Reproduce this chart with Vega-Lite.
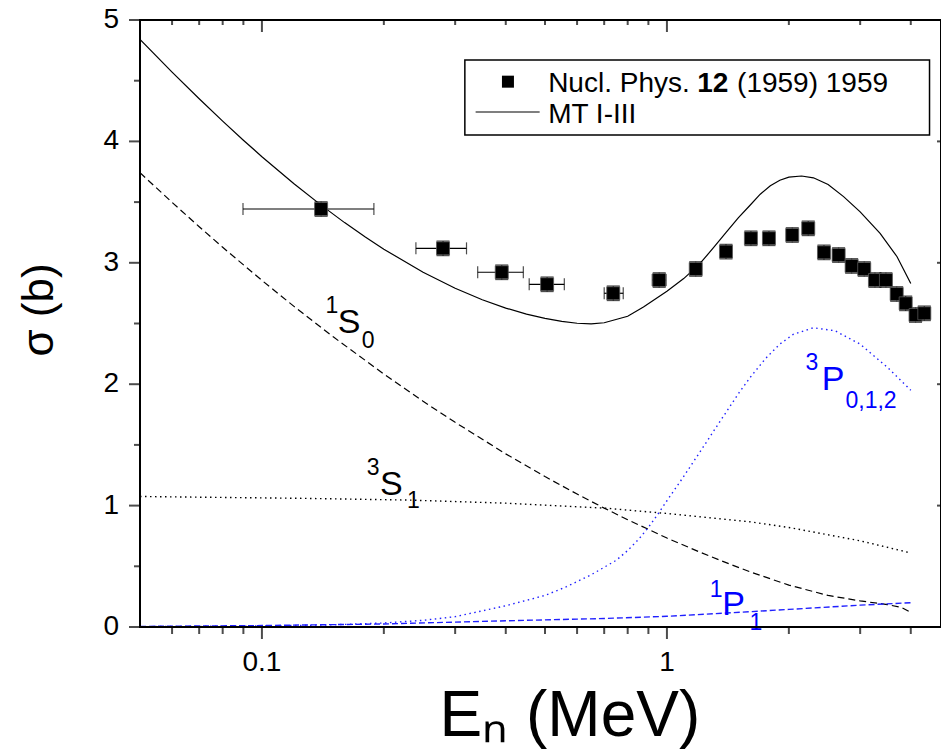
{
  "$schema": "https://vega.github.io/schema/vega-lite/v6.json",
  "width": 801,
  "height": 607,
  "autosize": {"type": "none"},
  "padding": {"left": 140, "top": 20, "right": 0, "bottom": 128},
  "background": "white",
  "config": {"view": {"stroke": "black", "strokeWidth": 2}, "font": "Liberation Sans"},
  "datasets": {
    "curves": [
      {"comp": "total", "E": 0.05, "sigma": 4.84}, {"comp": "total", "E": 0.06, "sigma": 4.57}, {"comp": "total", "E": 0.07, "sigma": 4.351},
      {"comp": "total", "E": 0.08, "sigma": 4.167}, {"comp": "total", "E": 0.09, "sigma": 4.01}, {"comp": "total", "E": 0.1, "sigma": 3.874},
      {"comp": "total", "E": 0.12, "sigma": 3.651}, {"comp": "total", "E": 0.14, "sigma": 3.475}, {"comp": "total", "E": 0.16, "sigma": 3.331},
      {"comp": "total", "E": 0.18, "sigma": 3.212}, {"comp": "total", "E": 0.2, "sigma": 3.112}, {"comp": "total", "E": 0.25, "sigma": 2.922},
      {"comp": "total", "E": 0.3, "sigma": 2.79}, {"comp": "total", "E": 0.35, "sigma": 2.696}, {"comp": "total", "E": 0.4, "sigma": 2.627},
      {"comp": "total", "E": 0.45, "sigma": 2.577}, {"comp": "total", "E": 0.5, "sigma": 2.542}, {"comp": "total", "E": 0.55, "sigma": 2.517},
      {"comp": "total", "E": 0.6, "sigma": 2.502}, {"comp": "total", "E": 0.65, "sigma": 2.497}, {"comp": "total", "E": 0.7, "sigma": 2.506},
      {"comp": "total", "E": 0.8, "sigma": 2.56}, {"comp": "total", "E": 0.875, "sigma": 2.635}, {"comp": "total", "E": 1.0, "sigma": 2.765},
      {"comp": "total", "E": 1.1, "sigma": 2.87}, {"comp": "total", "E": 1.2, "sigma": 2.985}, {"comp": "total", "E": 1.3, "sigma": 3.12},
      {"comp": "total", "E": 1.4, "sigma": 3.25}, {"comp": "total", "E": 1.5, "sigma": 3.37}, {"comp": "total", "E": 1.6, "sigma": 3.47},
      {"comp": "total", "E": 1.7, "sigma": 3.565}, {"comp": "total", "E": 1.8, "sigma": 3.635}, {"comp": "total", "E": 1.9, "sigma": 3.68},
      {"comp": "total", "E": 2.0, "sigma": 3.705}, {"comp": "total", "E": 2.15, "sigma": 3.715}, {"comp": "total", "E": 2.3, "sigma": 3.7},
      {"comp": "total", "E": 2.5, "sigma": 3.645}, {"comp": "total", "E": 2.73, "sigma": 3.545}, {"comp": "total", "E": 3.0, "sigma": 3.42},
      {"comp": "total", "E": 3.36, "sigma": 3.243}, {"comp": "total", "E": 3.7, "sigma": 3.05}, {"comp": "total", "E": 4.0, "sigma": 2.83},
      {"comp": "1S0", "E": 0.05, "sigma": 3.742}, {"comp": "1S0", "E": 0.06, "sigma": 3.498}, {"comp": "1S0", "E": 0.07, "sigma": 3.297},
      {"comp": "1S0", "E": 0.08, "sigma": 3.128}, {"comp": "1S0", "E": 0.1, "sigma": 2.855}, {"comp": "1S0", "E": 0.12, "sigma": 2.641},
      {"comp": "1S0", "E": 0.15, "sigma": 2.39}, {"comp": "1S0", "E": 0.2, "sigma": 2.084}, {"comp": "1S0", "E": 0.25, "sigma": 1.859},
      {"comp": "1S0", "E": 0.3, "sigma": 1.686}, {"comp": "1S0", "E": 0.4, "sigma": 1.426}, {"comp": "1S0", "E": 0.5, "sigma": 1.239},
      {"comp": "1S0", "E": 0.6, "sigma": 1.095}, {"comp": "1S0", "E": 0.7, "sigma": 0.979}, {"comp": "1S0", "E": 0.8, "sigma": 0.884},
      {"comp": "1S0", "E": 1.0, "sigma": 0.733}, {"comp": "1S0", "E": 1.2, "sigma": 0.62}, {"comp": "1S0", "E": 1.4, "sigma": 0.53},
      {"comp": "1S0", "E": 1.6, "sigma": 0.456}, {"comp": "1S0", "E": 2.0, "sigma": 0.345}, {"comp": "1S0", "E": 2.5, "sigma": 0.26},
      {"comp": "1S0", "E": 3.0, "sigma": 0.215}, {"comp": "1S0", "E": 3.5, "sigma": 0.185}, {"comp": "1S0", "E": 3.8, "sigma": 0.16},
      {"comp": "1S0", "E": 4.0, "sigma": 0.12},
      {"comp": "3S1", "E": 0.05, "sigma": 1.075}, {"comp": "3S1", "E": 0.124, "sigma": 1.06}, {"comp": "3S1", "E": 0.228, "sigma": 1.046},
      {"comp": "3S1", "E": 0.4, "sigma": 1.02}, {"comp": "3S1", "E": 0.71, "sigma": 0.978}, {"comp": "3S1", "E": 1.0, "sigma": 0.935},
      {"comp": "3S1", "E": 1.6, "sigma": 0.867}, {"comp": "3S1", "E": 2.0, "sigma": 0.82}, {"comp": "3S1", "E": 3.0, "sigma": 0.71},
      {"comp": "3S1", "E": 4.0, "sigma": 0.61},
      {"comp": "3P012", "E": 0.05, "sigma": 0.003}, {"comp": "3P012", "E": 0.1, "sigma": 0.008}, {"comp": "3P012", "E": 0.15, "sigma": 0.018},
      {"comp": "3P012", "E": 0.2, "sigma": 0.033}, {"comp": "3P012", "E": 0.25, "sigma": 0.055}, {"comp": "3P012", "E": 0.3, "sigma": 0.085},
      {"comp": "3P012", "E": 0.4, "sigma": 0.175}, {"comp": "3P012", "E": 0.5, "sigma": 0.26}, {"comp": "3P012", "E": 0.565, "sigma": 0.332},
      {"comp": "3P012", "E": 0.65, "sigma": 0.43}, {"comp": "3P012", "E": 0.75, "sigma": 0.55}, {"comp": "3P012", "E": 0.8, "sigma": 0.63},
      {"comp": "3P012", "E": 0.85, "sigma": 0.72}, {"comp": "3P012", "E": 0.9, "sigma": 0.82}, {"comp": "3P012", "E": 0.95, "sigma": 0.93},
      {"comp": "3P012", "E": 1.0, "sigma": 1.04}, {"comp": "3P012", "E": 1.1, "sigma": 1.24}, {"comp": "3P012", "E": 1.2, "sigma": 1.43},
      {"comp": "3P012", "E": 1.35, "sigma": 1.69}, {"comp": "3P012", "E": 1.5, "sigma": 1.92}, {"comp": "3P012", "E": 1.6, "sigma": 2.05},
      {"comp": "3P012", "E": 1.75, "sigma": 2.21}, {"comp": "3P012", "E": 1.9, "sigma": 2.33}, {"comp": "3P012", "E": 2.05, "sigma": 2.41},
      {"comp": "3P012", "E": 2.3, "sigma": 2.465}, {"comp": "3P012", "E": 2.6, "sigma": 2.44}, {"comp": "3P012", "E": 3.0, "sigma": 2.33},
      {"comp": "3P012", "E": 3.5, "sigma": 2.14}, {"comp": "3P012", "E": 4.0, "sigma": 1.95},
      {"comp": "1P1", "E": 0.05, "sigma": 0.005}, {"comp": "1P1", "E": 0.1, "sigma": 0.012}, {"comp": "1P1", "E": 0.2, "sigma": 0.025},
      {"comp": "1P1", "E": 0.387, "sigma": 0.05}, {"comp": "1P1", "E": 0.7, "sigma": 0.07}, {"comp": "1P1", "E": 1.0, "sigma": 0.088},
      {"comp": "1P1", "E": 1.6, "sigma": 0.126}, {"comp": "1P1", "E": 2.0, "sigma": 0.145}, {"comp": "1P1", "E": 3.0, "sigma": 0.18},
      {"comp": "1P1", "E": 4.0, "sigma": 0.2}
    ],
    "points": [
      {"E": 0.14, "sigma": 3.443, "Elo": 0.0898, "Ehi": 0.189, "slo": 3.383, "shi": 3.503},
      {"E": 0.28, "sigma": 3.119, "Elo": 0.24, "Ehi": 0.32, "slo": 3.059, "shi": 3.179},
      {"E": 0.391, "sigma": 2.922, "Elo": 0.341, "Ehi": 0.442, "slo": 2.862, "shi": 2.982},
      {"E": 0.506, "sigma": 2.823, "Elo": 0.457, "Ehi": 0.558, "slo": 2.763, "shi": 2.883},
      {"E": 0.737, "sigma": 2.749, "Elo": 0.7, "Ehi": 0.78, "slo": 2.689, "shi": 2.809},
      {"E": 0.957, "sigma": 2.858, "Elo": 0.92, "Ehi": 0.995, "slo": 2.798, "shi": 2.918},
      {"E": 1.178, "sigma": 2.949, "slo": 2.889, "shi": 3.009},
      {"E": 1.399, "sigma": 3.092, "slo": 3.032, "shi": 3.152},
      {"E": 1.612, "sigma": 3.202, "slo": 3.142, "shi": 3.262},
      {"E": 1.786, "sigma": 3.202, "slo": 3.142, "shi": 3.262},
      {"E": 2.039, "sigma": 3.229, "slo": 3.169, "shi": 3.289},
      {"E": 2.233, "sigma": 3.284, "slo": 3.224, "shi": 3.344},
      {"E": 2.442, "sigma": 3.086, "slo": 3.026, "shi": 3.146},
      {"E": 2.654, "sigma": 3.064, "slo": 3.004, "shi": 3.124},
      {"E": 2.858, "sigma": 2.974, "slo": 2.914, "shi": 3.034},
      {"E": 3.07, "sigma": 2.949, "slo": 2.889, "shi": 3.009},
      {"E": 3.263, "sigma": 2.858, "slo": 2.798, "shi": 2.918},
      {"E": 3.473, "sigma": 2.858, "slo": 2.798, "shi": 2.918},
      {"E": 3.692, "sigma": 2.743, "slo": 2.683, "shi": 2.803},
      {"E": 3.886, "sigma": 2.666, "slo": 2.606, "shi": 2.726},
      {"E": 4.11, "sigma": 2.57, "slo": 2.51, "shi": 2.63},
      {"E": 4.32, "sigma": 2.584, "slo": 2.524, "shi": 2.644}
    ],
    "labels": [
      {"comp": "1S0", "part": "sup", "t": "1", "E": 0.1435, "sigma": 2.587},
      {"comp": "1S0", "part": "main", "t": "S", "E": 0.154, "sigma": 2.422},
      {"comp": "1S0", "part": "sub", "t": "0", "E": 0.1765, "sigma": 2.298},
      {"comp": "3S1", "part": "sup", "t": "3", "E": 0.1815, "sigma": 1.252},
      {"comp": "3S1", "part": "main", "t": "S", "E": 0.1956, "sigma": 1.087},
      {"comp": "3S1", "part": "sub", "t": "1", "E": 0.228, "sigma": 0.98},
      {"comp": "3P012", "part": "sup", "t": "3", "E": 2.2, "sigma": 2.12},
      {"comp": "3P012", "part": "main", "t": "P", "E": 2.41, "sigma": 1.95},
      {"comp": "3P012", "part": "sub", "t": "0,1,2", "E": 2.76, "sigma": 1.8},
      {"comp": "1P1", "part": "sup", "t": "1", "E": 1.275, "sigma": 0.247},
      {"comp": "1P1", "part": "main", "t": "P", "E": 1.37, "sigma": 0.099},
      {"comp": "1P1", "part": "sub", "t": "1", "E": 1.6, "sigma": -0.025}
    ],
    "frame": [
      {"E1": 0.05, "E2": 4.75, "s1": 0, "s2": 0},
      {"E1": 0.05, "E2": 4.75, "s1": 5, "s2": 5},
      {"E1": 0.05, "E2": 0.05, "s1": 0, "s2": 5}
    ],
    "xticks": [
      {"E": 0.06, "kind": "minor"}, {"E": 0.07, "kind": "minor"}, {"E": 0.08, "kind": "minor"}, {"E": 0.09, "kind": "minor"},
      {"E": 0.1, "kind": "major", "t": "0.1"},
      {"E": 0.2, "kind": "minor"}, {"E": 0.3, "kind": "minor"}, {"E": 0.4, "kind": "minor"}, {"E": 0.5, "kind": "minor"},
      {"E": 0.6, "kind": "minor"}, {"E": 0.7, "kind": "minor"}, {"E": 0.8, "kind": "minor"}, {"E": 0.9, "kind": "minor"},
      {"E": 1, "kind": "major", "t": "1"},
      {"E": 2, "kind": "minor"}, {"E": 3, "kind": "minor"}, {"E": 4, "kind": "minor"}
    ],
    "yticks": [
      {"sigma": 0, "kind": "major", "t": "0"}, {"sigma": 0.5, "kind": "minor"}, {"sigma": 1, "kind": "major", "t": "1"}, {"sigma": 1.5, "kind": "minor"},
      {"sigma": 2, "kind": "major", "t": "2"}, {"sigma": 2.5, "kind": "minor"}, {"sigma": 3, "kind": "major", "t": "3"}, {"sigma": 3.5, "kind": "minor"},
      {"sigma": 4, "kind": "major", "t": "4"}, {"sigma": 4.5, "kind": "minor"}, {"sigma": 5, "kind": "major", "t": "5"}
    ],
    "titles": [
      {"axis": "x", "t": "Eₙ (MeV)", "E": 0.576, "sigma": 0},
      {"axis": "y", "t": "σ (b)", "E": 0.05, "sigma": 2.611}
    ],
    "legendbox": [{"E1": 0.317, "E2": 4.45, "s1": 4.671, "s2": 4.053}],
    "legendsym": [{"E": 0.405, "sigma": 4.492}],
    "legendline": [{"E1": 0.337, "E2": 0.485, "sigma": 4.242}],
    "legendtext": [
      {"t": "Nucl. Phys.", "w": "normal", "E": 0.509, "sigma": 4.409},
      {"t": "12", "w": "bold", "E": 1.188, "sigma": 4.409},
      {"t": "(1959) 1959", "w": "normal", "E": 1.49, "sigma": 4.409},
      {"t": "MT I-III", "w": "normal", "E": 0.509, "sigma": 4.149}
    ]
  },
  "layer": [
    {
      "data": {"name": "curves"},
      "transform": [{"filter": "datum.comp === 'total'"}],
      "mark": {"type": "line", "color": "black", "strokeWidth": 1.2, "clip": true},
      "encoding": {
        "x": {"field": "E", "type": "quantitative", "scale": {"type": "log", "domain": [0.05, 4.75], "nice": false}, "axis": null},
        "y": {"field": "sigma", "type": "quantitative", "scale": {"domain": [0, 5], "nice": false, "zero": false}, "axis": null}
      }
    },
    {
      "data": {"name": "curves"},
      "transform": [{"filter": "datum.comp === '1S0'"}],
      "mark": {"type": "line", "color": "black", "strokeWidth": 1.2, "strokeDash": [7, 4], "clip": true},
      "encoding": {
        "x": {"field": "E", "type": "quantitative", "axis": null},
        "y": {"field": "sigma", "type": "quantitative", "axis": null}
      }
    },
    {
      "data": {"name": "curves"},
      "transform": [{"filter": "datum.comp === '3S1'"}],
      "mark": {"type": "line", "color": "black", "strokeWidth": 1.4, "strokeDash": [1.5, 3.5], "clip": true},
      "encoding": {
        "x": {"field": "E", "type": "quantitative", "axis": null},
        "y": {"field": "sigma", "type": "quantitative", "axis": null}
      }
    },
    {
      "data": {"name": "curves"},
      "transform": [{"filter": "datum.comp === '3P012'"}],
      "mark": {"type": "line", "color": "#2020ff", "strokeWidth": 1.4, "strokeDash": [1.5, 3.5], "clip": true},
      "encoding": {
        "x": {"field": "E", "type": "quantitative", "axis": null},
        "y": {"field": "sigma", "type": "quantitative", "axis": null}
      }
    },
    {
      "data": {"name": "curves"},
      "transform": [{"filter": "datum.comp === '1P1'"}],
      "mark": {"type": "line", "color": "#2020ff", "strokeWidth": 1.4, "strokeDash": [6, 3], "clip": true},
      "encoding": {
        "x": {"field": "E", "type": "quantitative", "axis": null},
        "y": {"field": "sigma", "type": "quantitative", "axis": null}
      }
    },
    {
      "data": {"name": "points"},
      "transform": [{"filter": "isValid(datum.Elo)"}],
      "mark": {"type": "rule", "color": "black", "strokeWidth": 1.2},
      "encoding": {
        "x": {"field": "Elo", "type": "quantitative", "axis": null},
        "x2": {"field": "Ehi"},
        "y": {"field": "sigma", "type": "quantitative", "axis": null}
      }
    },
    {
      "data": {"name": "points"},
      "transform": [{"filter": "isValid(datum.Elo)"}],
      "mark": {"type": "tick", "orient": "vertical", "color": "black", "size": 12, "thickness": 1.2},
      "encoding": {
        "x": {"field": "Elo", "type": "quantitative", "axis": null},
        "y": {"field": "sigma", "type": "quantitative", "axis": null}
      }
    },
    {
      "data": {"name": "points"},
      "transform": [{"filter": "isValid(datum.Ehi)"}],
      "mark": {"type": "tick", "orient": "vertical", "color": "black", "size": 12, "thickness": 1.2},
      "encoding": {
        "x": {"field": "Ehi", "type": "quantitative", "axis": null},
        "y": {"field": "sigma", "type": "quantitative", "axis": null}
      }
    },
    {
      "data": {"name": "points"},
      "mark": {"type": "rule", "color": "black", "strokeWidth": 1.2},
      "encoding": {
        "x": {"field": "E", "type": "quantitative", "axis": null},
        "y": {"field": "slo", "type": "quantitative", "axis": null},
        "y2": {"field": "shi"}
      }
    },
    {
      "data": {"name": "points"},
      "mark": {"type": "tick", "orient": "horizontal", "color": "black", "size": 13, "thickness": 1.2},
      "encoding": {
        "x": {"field": "E", "type": "quantitative", "axis": null},
        "y": {"field": "slo", "type": "quantitative", "axis": null}
      }
    },
    {
      "data": {"name": "points"},
      "mark": {"type": "tick", "orient": "horizontal", "color": "black", "size": 13, "thickness": 1.2},
      "encoding": {
        "x": {"field": "E", "type": "quantitative", "axis": null},
        "y": {"field": "shi", "type": "quantitative", "axis": null}
      }
    },
    {
      "data": {"name": "points"},
      "mark": {"type": "point", "shape": "square", "filled": true, "color": "black", "size": 169, "opacity": 1, "stroke": "#555", "strokeWidth": 0.8},
      "encoding": {
        "x": {"field": "E", "type": "quantitative", "axis": null},
        "y": {"field": "sigma", "type": "quantitative", "axis": null}
      }
    },
    {
      "data": {"name": "labels"},
      "transform": [{"filter": "datum.part === 'main'"}],
      "mark": {"type": "text", "align": "left", "baseline": "alphabetic", "fontSize": 34, "font": "Liberation Sans"},
      "encoding": {
        "x": {"field": "E", "type": "quantitative", "axis": null},
        "y": {"field": "sigma", "type": "quantitative", "axis": null},
        "text": {"field": "t"},
        "color": {"field": "comp", "type": "nominal", "scale": {"domain": ["1S0", "3S1", "3P012", "1P1"], "range": ["black", "black", "#0000ff", "#0000ff"]}, "legend": null}
      }
    },
    {
      "data": {"name": "labels"},
      "transform": [{"filter": "datum.part !== 'main'"}],
      "mark": {"type": "text", "align": "left", "baseline": "alphabetic", "fontSize": 23, "font": "Liberation Sans"},
      "encoding": {
        "x": {"field": "E", "type": "quantitative", "axis": null},
        "y": {"field": "sigma", "type": "quantitative", "axis": null},
        "text": {"field": "t"},
        "color": {"field": "comp", "type": "nominal", "scale": {"domain": ["1S0", "3S1", "3P012", "1P1"], "range": ["black", "black", "#0000ff", "#0000ff"]}, "legend": null}
      }
    },
    {
      "data": {"name": "xticks"},
      "transform": [{"filter": "datum.kind === 'major'"}],
      "mark": {"type": "text", "align": "center", "baseline": "top", "fontSize": 28, "font": "Liberation Sans", "color": "black", "yOffset": 22},
      "encoding": {"x": {"field": "E", "type": "quantitative", "axis": null}, "y": {"datum": 0, "type": "quantitative", "axis": null}, "text": {"field": "t"}}
    },
    {
      "data": {"name": "yticks"},
      "transform": [{"filter": "datum.kind === 'major'"}],
      "mark": {"type": "text", "align": "right", "baseline": "middle", "fontSize": 28, "font": "Liberation Sans", "color": "black", "xOffset": -21},
      "encoding": {"y": {"field": "sigma", "type": "quantitative", "axis": null}, "x": {"datum": 0.05, "type": "quantitative", "axis": null}, "text": {"field": "t"}}
    },
    {
      "data": {"name": "titles"},
      "transform": [{"filter": "datum.axis === 'x'"}],
      "mark": {"type": "text", "align": "center", "baseline": "alphabetic", "fontSize": 64, "font": "Liberation Sans", "color": "black", "yOffset": 109},
      "encoding": {"x": {"field": "E", "type": "quantitative", "axis": null}, "y": {"field": "sigma", "type": "quantitative", "axis": null}, "text": {"field": "t"}}
    },
    {
      "data": {"name": "titles"},
      "transform": [{"filter": "datum.axis === 'y'"}],
      "mark": {"type": "text", "align": "center", "baseline": "alphabetic", "angle": 270, "fontSize": 44, "font": "Liberation Sans", "color": "black", "xOffset": -87},
      "encoding": {"x": {"field": "E", "type": "quantitative", "axis": null}, "y": {"field": "sigma", "type": "quantitative", "axis": null}, "text": {"field": "t"}}
    },
    {
      "data": {"name": "legendbox"},
      "mark": {"type": "rect", "fill": "white", "stroke": "black", "strokeWidth": 1.5},
      "encoding": {
        "x": {"field": "E1", "type": "quantitative", "axis": null},
        "x2": {"field": "E2"},
        "y": {"field": "s1", "type": "quantitative", "axis": null},
        "y2": {"field": "s2"}
      }
    },
    {
      "data": {"name": "legendsym"},
      "mark": {"type": "point", "shape": "square", "filled": true, "color": "black", "size": 144, "opacity": 1},
      "encoding": {
        "x": {"field": "E", "type": "quantitative", "axis": null},
        "y": {"field": "sigma", "type": "quantitative", "axis": null}
      }
    },
    {
      "data": {"name": "legendline"},
      "mark": {"type": "rule", "color": "black", "strokeWidth": 1.2},
      "encoding": {
        "x": {"field": "E1", "type": "quantitative", "axis": null},
        "x2": {"field": "E2"},
        "y": {"field": "sigma", "type": "quantitative", "axis": null}
      }
    },
    {
      "data": {"name": "legendtext"},
      "transform": [{"filter": "datum.w === 'normal'"}],
      "mark": {"type": "text", "align": "left", "baseline": "alphabetic", "fontSize": 28, "font": "Liberation Sans", "color": "black"},
      "encoding": {
        "x": {"field": "E", "type": "quantitative", "axis": null},
        "y": {"field": "sigma", "type": "quantitative", "axis": null},
        "text": {"field": "t"}
      }
    },
    {
      "data": {"name": "legendtext"},
      "transform": [{"filter": "datum.w === 'bold'"}],
      "mark": {"type": "text", "align": "left", "baseline": "alphabetic", "fontSize": 28, "fontWeight": "bold", "font": "Liberation Sans", "color": "black"},
      "encoding": {
        "x": {"field": "E", "type": "quantitative", "axis": null},
        "y": {"field": "sigma", "type": "quantitative", "axis": null},
        "text": {"field": "t"}
      }
    },
    {
      "data": {"name": "frame"},
      "mark": {"type": "rule", "color": "black", "strokeWidth": 2},
      "encoding": {
        "x": {"field": "E1", "type": "quantitative", "axis": null},
        "x2": {"field": "E2"},
        "y": {"field": "s1", "type": "quantitative", "axis": null},
        "y2": {"field": "s2"}
      }
    },
    {
      "data": {"name": "xticks"},
      "transform": [{"filter": "datum.kind === 'major'"}],
      "mark": {"type": "tick", "orient": "vertical", "color": "black", "size": 12, "thickness": 2, "yOffset": 6},
      "encoding": {"x": {"field": "E", "type": "quantitative", "axis": null}, "y": {"datum": 0, "type": "quantitative", "axis": null}}
    },
    {
      "data": {"name": "xticks"},
      "transform": [{"filter": "datum.kind === 'major'"}],
      "mark": {"type": "tick", "orient": "vertical", "color": "black", "size": 12, "thickness": 2, "yOffset": 6},
      "encoding": {"x": {"field": "E", "type": "quantitative", "axis": null}, "y": {"datum": 5, "type": "quantitative", "axis": null}}
    },
    {
      "data": {"name": "xticks"},
      "transform": [{"filter": "datum.kind === 'minor'"}],
      "mark": {"type": "tick", "orient": "vertical", "color": "black", "size": 7, "thickness": 2, "yOffset": 3.5},
      "encoding": {"x": {"field": "E", "type": "quantitative", "axis": null}, "y": {"datum": 0, "type": "quantitative", "axis": null}}
    },
    {
      "data": {"name": "xticks"},
      "transform": [{"filter": "datum.kind === 'minor'"}],
      "mark": {"type": "tick", "orient": "vertical", "color": "black", "size": 5, "thickness": 2, "yOffset": 2.5},
      "encoding": {"x": {"field": "E", "type": "quantitative", "axis": null}, "y": {"datum": 5, "type": "quantitative", "axis": null}}
    },
    {
      "data": {"name": "yticks"},
      "transform": [{"filter": "datum.kind === 'major'"}],
      "mark": {"type": "tick", "orient": "horizontal", "color": "black", "size": 11, "thickness": 2, "xOffset": -5.5},
      "encoding": {"y": {"field": "sigma", "type": "quantitative", "axis": null}, "x": {"datum": 0.05, "type": "quantitative", "axis": null}}
    },
    {
      "data": {"name": "yticks"},
      "transform": [{"filter": "datum.kind === 'minor'"}],
      "mark": {"type": "tick", "orient": "horizontal", "color": "black", "size": 6, "thickness": 2, "xOffset": -3},
      "encoding": {"y": {"field": "sigma", "type": "quantitative", "axis": null}, "x": {"datum": 0.05, "type": "quantitative", "axis": null}}
    },
    {
      "data": {"name": "yticks"},
      "transform": [{"filter": "datum.kind === 'major' && datum.sigma > 0 && datum.sigma < 5"}],
      "mark": {"type": "tick", "orient": "horizontal", "color": "black", "size": 4, "thickness": 2, "xOffset": -2},
      "encoding": {"y": {"field": "sigma", "type": "quantitative", "axis": null}, "x": {"datum": 4.75, "type": "quantitative", "axis": null}}
    }
  ]
}
